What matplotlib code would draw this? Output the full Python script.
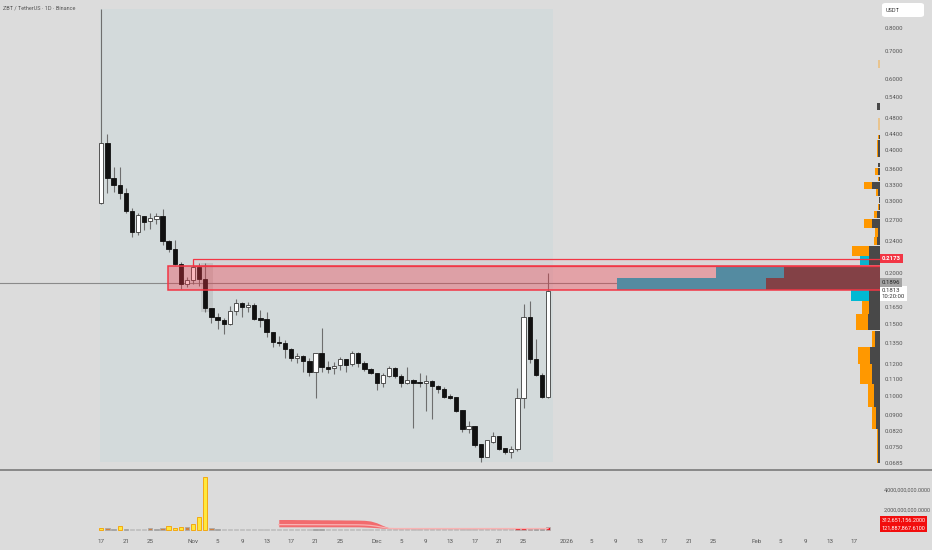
import matplotlib
matplotlib.use('Agg')
import matplotlib.pyplot as plt
import matplotlib.dates as mdates
from matplotlib.patches import Rectangle, FancyBboxPatch
from matplotlib.transforms import blended_transform_factory
from matplotlib.ticker import NullLocator
import pandas as pd

plt.rcParams['font.family'] = ['Roboto', 'DejaVu Sans']

# ---------------- data ----------------
dates = pd.date_range('2025-10-17', periods=74, freq='D')
opens = [0.2975, 0.4174, 0.3426, 0.3294, 0.3148, 0.2844, 0.2527, 0.2765, 0.2688, 0.2718,
         0.2765, 0.2402, 0.2295, 0.2109, 0.1884, 0.1927, 0.2074, 0.1938, 0.1646, 0.1564,
         0.1538, 0.1503, 0.1618, 0.1692, 0.1655, 0.1674, 0.1555, 0.1547, 0.1437, 0.1358,
         0.1351, 0.1306, 0.1241, 0.1255, 0.1220, 0.1147, 0.1276, 0.1179, 0.1173, 0.1193,
         0.1234, 0.1199, 0.1276, 0.1206, 0.1166, 0.1140, 0.1078, 0.1121, 0.1173, 0.1121,
         0.1078, 0.1096, 0.1084, 0.1078, 0.1090, 0.1059, 0.1042, 0.1001, 0.0996, 0.0925,
         0.0831, 0.0846, 0.0764, 0.0710, 0.0772, 0.0799, 0.0747, 0.0730, 0.0742, 0.0990,
         0.1564, 0.1234, 0.1127, 0.0996]
highs = [0.889, 0.439, 0.3646, 0.3646, 0.3238, 0.2893, 0.2812, 0.2765, 0.2812, 0.2812,
         0.2876, 0.2415, 0.2415, 0.2133, 0.1960, 0.2121, 0.2121, 0.2121, 0.1646, 0.1600,
         0.1555, 0.1664, 0.1731, 0.1702, 0.1702, 0.1692, 0.1627, 0.1609, 0.1437, 0.1405,
         0.1374, 0.1313, 0.1276, 0.1262, 0.1241, 0.1276, 0.1470, 0.1220, 0.1213, 0.1248,
         0.1234, 0.1291, 0.1284, 0.1220, 0.1173, 0.1140, 0.1140, 0.1186, 0.1179, 0.1134,
         0.1179, 0.1102, 0.1140, 0.1127, 0.1096, 0.1066, 0.1053, 0.1013, 0.0996, 0.0925,
         0.0870, 0.0846, 0.0764, 0.0781, 0.0818, 0.0799, 0.0747, 0.0755, 0.1048, 0.1683,
         0.1711, 0.1382, 0.1140, 0.2005]
lows = [0.2960, 0.3148, 0.3166, 0.3043, 0.2812, 0.2456, 0.2484, 0.2555, 0.2570, 0.2643,
        0.2348, 0.2257, 0.2097, 0.1832, 0.1852, 0.1884, 0.1863, 0.1609, 0.1512, 0.1462,
        0.1421, 0.1495, 0.1582, 0.1564, 0.1609, 0.1538, 0.1478, 0.1397, 0.1321, 0.1328,
        0.1241, 0.1220, 0.1206, 0.1147, 0.1121, 0.0990, 0.1147, 0.1140, 0.1134, 0.1160,
        0.1147, 0.1186, 0.1179, 0.1153, 0.1134, 0.1036, 0.1053, 0.1115, 0.1108, 0.1053,
        0.1072, 0.0836, 0.1053, 0.0920, 0.0879, 0.1018, 0.0990, 0.0985, 0.0915, 0.0818,
        0.0813, 0.0751, 0.0690, 0.0710, 0.0768, 0.0738, 0.0722, 0.0706, 0.0734, 0.0936,
        0.1206, 0.1121, 0.0990, 0.0990]
closes = [0.4174, 0.3426, 0.3294, 0.3148, 0.2844, 0.2527, 0.2780, 0.2673, 0.2734, 0.2765,
          0.2402, 0.2295, 0.2109, 0.1884, 0.1927, 0.2074, 0.1938, 0.1646, 0.1564, 0.1538,
          0.1503, 0.1618, 0.1692, 0.1655, 0.1674, 0.1547, 0.1538, 0.1437, 0.1358, 0.1351,
          0.1306, 0.1241, 0.1255, 0.1220, 0.1147, 0.1276, 0.1179, 0.1166, 0.1186, 0.1234,
          0.1193, 0.1276, 0.1206, 0.1166, 0.1140, 0.1078, 0.1127, 0.1173, 0.1121, 0.1078,
          0.1096, 0.1078, 0.1078, 0.1090, 0.1059, 0.1042, 0.0996, 0.0990, 0.0920, 0.0831,
          0.0846, 0.0759, 0.0710, 0.0781, 0.0799, 0.0742, 0.0730, 0.0742, 0.0990, 0.1564,
          0.1234, 0.1127, 0.0996, 0.1813]

# volume (billions) and colour class per day
volumes_bn = [0.22, 0.20, 0.12, 0.42, 0.10, 0.08, 0.08, 0.08, 0.20, 0.12,
              0.25, 0.45, 0.22, 0.30, 0.32, 0.62, 1.35, 5.35, 0.22, 0.10,
              0.07, 0.07, 0.07, 0.07, 0.07, 0.07, 0.07, 0.07, 0.07, 0.07,
              0.07, 0.07, 0.07, 0.07, 0.07, 0.09, 0.09, 0.07, 0.07, 0.07,
              0.07, 0.07, 0.07, 0.07, 0.07, 0.07, 0.07, 0.07, 0.07, 0.07,
              0.07, 0.07, 0.07, 0.07, 0.07, 0.07, 0.07, 0.07, 0.07, 0.07,
              0.07, 0.07, 0.07, 0.07, 0.07, 0.07, 0.07, 0.07, 0.25, 0.25,
              0.15, 0.10, 0.10, 0.3127]
vol_class = ['y', 'o', 'd', 'y', 'd', 'g', 'g', 'g', 'o', 'd',
             'o', 'y', 'y', 'y', 'o', 'y', 'y', 'y', 'o', 'd',
             'g', 'g', 'g', 'g', 'g', 'g', 'g', 'g', 'g', 'g',
             'g', 'g', 'g', 'g', 'g', 'd', 'd', 'g', 'g', 'g',
             'g', 'g', 'g', 'g', 'g', 'g', 'g', 'g', 'g', 'g',
             'g', 'g', 'g', 'g', 'g', 'g', 'g', 'g', 'g', 'g',
             'g', 'g', 'g', 'g', 'g', 'g', 'g', 'g', 'r', 'r',
             'r', 'd', 'd', 'r']

# red indicator band in the volume pane (days 29..73, billions)
band_start = 29
band_top = [1.05, 1.05, 1.05, 1.04, 1.04, 1.03, 1.03, 1.02, 1.02, 1.01,
            1.01, 1.00, 1.00, 0.99, 0.97, 0.90, 0.72, 0.45, 0.22, 0.18,
            0.18, 0.18, 0.18, 0.18, 0.18, 0.18, 0.18, 0.18, 0.18, 0.18,
            0.18, 0.18, 0.18, 0.18, 0.18, 0.18, 0.18, 0.18, 0.18, 0.18,
            0.18, 0.18, 0.18, 0.18, 0.18]
band_bot = [0.32, 0.32, 0.32, 0.32, 0.32, 0.32, 0.32, 0.32, 0.32, 0.32,
            0.32, 0.32, 0.32, 0.32, 0.30, 0.27, 0.23, 0.18, 0.14, 0.13,
            0.13, 0.13, 0.13, 0.13, 0.13, 0.13, 0.13, 0.13, 0.13, 0.13,
            0.13, 0.13, 0.13, 0.13, 0.13, 0.13, 0.13, 0.13, 0.13, 0.13,
            0.13, 0.13, 0.13, 0.13, 0.13]

# visible range volume profile rows (price range, up / down volume, value-area flag)
prof_lo = [0.6373, 0.5029, 0.4492, 0.4270, 0.4081, 0.3967, 0.3857, 0.3646, 0.3485, 0.3369,
           0.3220, 0.3095, 0.2975, 0.2860, 0.2734, 0.2584, 0.2456, 0.2348, 0.2206, 0.2097,
           0.1949, 0.1821, 0.1711, 0.1591, 0.1454, 0.1321, 0.1199, 0.1072, 0.0942, 0.0831, 0.0686]
prof_hi = [0.6667, 0.5231, 0.4807, 0.4367, 0.4246, 0.4081, 0.3967, 0.3729, 0.3625, 0.3446,
           0.3350, 0.3220, 0.3078, 0.2960, 0.2844, 0.2718, 0.2584, 0.2456, 0.2334, 0.2206,
           0.2085, 0.1949, 0.1821, 0.1711, 0.1591, 0.1446, 0.1321, 0.1199, 0.1072, 0.0942, 0.0831]
prof_up = [2, 0, 2, 1, 1.5, 1, 1.5, 0.5, 2.5, 1, 8, 2, 0.5, 1, 3, 8, 3, 3, 17, 9,
           68, 149, 18, 7, 12, 3, 12, 12, 6, 4, 1.5]
prof_down = [0, 3, 0, 1, 2, 2, 2, 2, 2.5, 1.5, 8, 2, 1, 1.5, 3, 8, 2.5, 3, 11, 11,
             96, 114, 11, 11, 12, 5, 10, 8, 6, 4, 2]
prof_va = [False] * 19 + [True, True, True, True] + [False] * 8
prof_faint = [True, False, True] + [False] * 28

# zones / levels
zone_start_idx = 11
zone_lo, zone_hi = 0.1820, 0.2085
zone2_start_idx = 15
zone2_hi = 0.2173
gray_level = 0.1896
ytick_vals = [0.8, 0.7, 0.6, 0.54, 0.48, 0.44, 0.40, 0.36, 0.33, 0.30, 0.27, 0.24, 0.20,
              0.165, 0.15, 0.135, 0.12, 0.11, 0.10, 0.09, 0.082, 0.075, 0.0685]
xtick_dates = ['2025-10-17', '2025-10-21', '2025-10-25', '2025-11-01', '2025-11-05', '2025-11-09',
               '2025-11-13', '2025-11-17', '2025-11-21', '2025-11-25', '2025-12-01', '2025-12-05',
               '2025-12-09', '2025-12-13', '2025-12-17', '2025-12-21', '2025-12-25', '2026-01-01',
               '2026-01-05', '2026-01-09', '2026-01-13', '2026-01-17', '2026-01-21', '2026-01-25',
               '2026-02-01', '2026-02-05', '2026-02-09', '2026-02-13', '2026-02-17']

# ---------------- styling ----------------
BG = '#dcdcdc'
SHADE = '#d3dadb'
TXT = '#555555'
RED = '#f23645'
W, H = 932, 550

fig = plt.figure(figsize=(W / 100, H / 100), dpi=100, facecolor=BG)
main_rect = [0, 1 - 468 / H, 880 / W, 468 / H]
ax = fig.add_axes(main_rect)
ax.set_facecolor(BG)
pax = fig.add_axes(main_rect, sharey=ax)
pax.set_zorder(3)
vax = fig.add_axes([0, 1 - 532 / H, 880 / W, 62 / H], sharex=ax)
vax.set_facecolor(BG)

x = mdates.date2num(dates)
px_per_day = 6.12
x_left = x[0] - 101.3 / px_per_day
x_right = x_left + 880 / px_per_day
ax.set_xlim(x_left, x_right)
ax.set_yscale('log')
ax.set_ylim(0.0667, 0.935)

# shaded range rectangle
ax.add_patch(Rectangle((x[0] - 0.2, min(lows)), (x[-1] + 0.75) - (x[0] - 0.2),
                       max(highs) - min(lows), facecolor=SHADE, edgecolor='none', zorder=0))
# highlight band around bar 17
ax.add_patch(Rectangle((x[16] + 0.3, lows[17]), 1.9, highs[17] - lows[17],
                       facecolor='#b9bdbe', alpha=0.6, edgecolor='none', zorder=1))
# gray horizontal level line
ax.axhline(gray_level, color='#8a8a8a', lw=0.8, zorder=1)

# candles
bw = 0.7
for i in range(len(x)):
    o, h, l, c = opens[i], highs[i], lows[i], closes[i]
    ax.vlines(x[i], l, h, color='#6e6e6e', lw=0.8, zorder=2)
    lo_b, hi_b = min(o, c), max(o, c)
    if hi_b / lo_b < 1.006:
        hi_b = lo_b * 1.006
    if c >= o:
        fc, ec = '#ffffff', '#3a3a3a'
    else:
        fc, ec = '#111111', '#111111'
    ax.add_patch(Rectangle((x[i] - bw / 2, lo_b), bw, hi_b - lo_b, facecolor=fc,
                           edgecolor=ec, lw=0.6, zorder=3))

for s in ax.spines.values():
    s.set_visible(False)
ax.tick_params(axis='x', bottom=False, labelbottom=False)
ax.yaxis.tick_right()
ax.set_yticks(ytick_vals)
ax.set_yticklabels([f'{v:.4f}' for v in ytick_vals])
ax.yaxis.set_minor_locator(NullLocator())
ax.tick_params(axis='y', length=0, pad=3, labelsize=4.3, labelcolor=TXT)

# volume profile (on top of candles), red zones on top of it
pax.axis('off')
pax.set_xlim(880, 0)
for i in range(len(prof_lo)):
    hgt = prof_hi[i] - prof_lo[i]
    dcol = '#484848'
    ucol = '#00b9d3' if prof_va[i] else '#ff9800'
    alpha = 0.35 if prof_faint[i] else 1.0
    if prof_down[i] > 0:
        pax.barh(prof_lo[i], prof_down[i], height=hgt, left=0, align='edge',
                 color=dcol, alpha=alpha, lw=0)
    if prof_up[i] > 0:
        pax.barh(prof_lo[i], prof_up[i], height=hgt, left=prof_down[i], align='edge',
                 color=ucol, alpha=alpha, lw=0)

zx0 = x[zone_start_idx] - 0.05
pax.add_patch(Rectangle((zx0, zone_lo), x_right + 5 - zx0, zone_hi - zone_lo,
                        transform=ax.transData, facecolor=(0.949, 0.212, 0.271, 0.35),
                        edgecolor=RED, lw=1.1, zorder=5))
zx1 = x[zone2_start_idx] - 0.05
pax.add_patch(Rectangle((zx1, zone_hi), x_right + 5 - zx1, zone2_hi - zone_hi,
                        transform=ax.transData, facecolor=(0.949, 0.212, 0.271, 0.04),
                        edgecolor=RED, lw=0.9, zorder=5))

# right-axis special labels
bt = blended_transform_factory(ax.transAxes, ax.transData)
ax.text(1.002, zone2_hi, '0.2173', transform=bt, fontsize=4.3, color='white', fontweight='bold',
        va='center', ha='left', zorder=10, clip_on=False,
        bbox=dict(boxstyle='square,pad=0.35', fc=RED, ec='none'))
ax.text(1.002, closes[-1] * 1.016, '0.1813\n10:20:00', transform=bt, fontsize=4.3,
        color='#333333', va='top', ha='left', zorder=10, clip_on=False, linespacing=1.35,
        bbox=dict(boxstyle='square,pad=0.35', fc='white', ec='none'))
ax.text(1.002, gray_level, '0.1896', transform=bt, fontsize=4.3, color='#222222',
        va='center', ha='left', zorder=11, clip_on=False,
        bbox=dict(boxstyle='square,pad=0.35', fc='#a3a3a3', ec='none'))

# ---------------- volume pane ----------------
vcolors = {'y': ('#ffe83b', '#f5a000'), 'o': ('#cf8040', '#a9a9a9'), 'd': ('#555555', '#a9a9a9'),
           'g': ('#a0a0a0', '#c4c4c4'), 'r': ('#e8121c', '#b0b0b0')}
for i in range(len(x)):
    fc, ec = vcolors[vol_class[i]]
    vax.bar(x[i], volumes_bn[i] * 1e9, width=bw, color=fc, edgecolor=ec, lw=0.6, zorder=2)
bx = x[band_start:band_start + len(band_top)]
vax.fill_between(bx, [v * 1e9 for v in band_bot], [v * 1e9 for v in band_top],
                 color='#f26b6e', lw=0, zorder=3)
vax.plot(bx, [(a * 0.3 + b * 0.7) * 1e9 for a, b in zip(band_top, band_bot)],
         color='#f8b3b3', lw=0.9, zorder=4)
vax.set_ylim(-0.2e9, 6.0e9)
for s in vax.spines.values():
    s.set_visible(False)
vax.yaxis.tick_right()
vax.set_yticks([2e9, 4e9])
vax.set_yticklabels([f'{v:,.4f}' for v in [2e9, 4e9]])
vax.tick_params(axis='y', length=0, pad=3, labelsize=4.0, labelcolor=TXT)

vbt = blended_transform_factory(vax.transAxes, vax.transData)
vax.text(1.002, 1.0e9, f'{312651156.2:,.4f}', transform=vbt, fontsize=4.0, color='white',
         va='center', ha='left', clip_on=False, bbox=dict(boxstyle='square,pad=0.3', fc='#f20d0d', ec='none'))
vax.text(1.002, 0.2e9, f'{121887867.61:,.4f}', transform=vbt, fontsize=4.0, color='white',
         va='center', ha='left', clip_on=False, bbox=dict(boxstyle='square,pad=0.3', fc='#f20d0d', ec='none'))

# time axis
td = pd.to_datetime(xtick_dates)
labels = []
for d in td:
    if d.day == 1:
        labels.append(str(d.year) if d.month == 1 else d.strftime('%b'))
    else:
        labels.append(str(d.day))
vax.set_xticks(mdates.date2num(td))
vax.set_xticklabels(labels)
vax.tick_params(axis='x', length=0, pad=5, labelsize=4.5, labelcolor=TXT)
vax.set_xlim(x_left, x_right)

# pane separator
fig.add_artist(plt.Line2D([0, 1], [1 - 469.5 / H, 1 - 469.5 / H], color='#7a7a7a', lw=1.2,
                          transform=fig.transFigure))

# title and currency box
fig.text(3 / W, 1 - 8 / H, 'ZBT / TetherUS · 1D · Binance', fontsize=4.0, color=TXT,
         va='center', ha='left')
fig.add_artist(FancyBboxPatch((882 / W, 1 - 17 / H), 42 / W, 14 / H,
                              boxstyle='round,pad=0,rounding_size=0.004', fc='white', ec='none',
                              transform=fig.transFigure))
fig.text(886 / W, 1 - 10 / H, 'USDT', fontsize=4.0, color='#333333', va='center', ha='left')

fig.savefig('out.png', dpi=100, facecolor=BG)
